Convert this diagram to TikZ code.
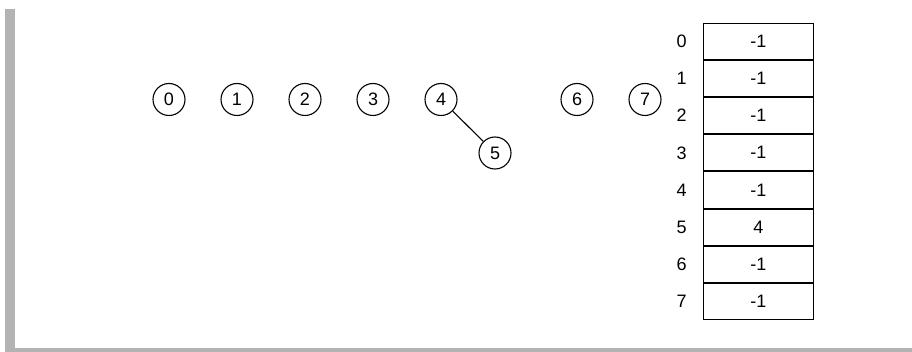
\documentclass[tikz,border=0pt]{standalone}
\usepackage{fontspec}
\setmainfont{Liberation Sans}
\definecolor{framegray}{HTML}{B3B3B3}
\begin{document}
\begin{tikzpicture}[x=1pt,y=-1pt,
  every node/.style={font=\fontsize{18}{21}\selectfont},
  vert/.style={circle,draw,line width=1.1pt,minimum size=32pt,inner sep=0pt},
  cell/.style={rectangle,draw,line width=1.1pt,minimum width=110pt,minimum height=36.2pt,inner sep=0pt},
  idx/.style={inner sep=0pt},
  edge/.style={line width=1.1pt}]
\useasboundingbox (0,0) rectangle (912,352);
% frame bars
\fill[framegray] (4.5,9) rectangle (15,352);
\fill[framegray] (4.5,347.5) rectangle (912,352);
% vertices
\foreach \i in {0,1,2,3,4,6,7} {
  \node[vert] (v\i) at ({169+68*\i},99.5) {\i};
}
\node[vert] (v5) at (495,153) {5};
\draw[edge] (v4) -- (v5);
% array
\foreach \i/\v in {0/-1,1/-1,2/-1,3/-1,4/-1,5/4,6/-1,7/-1} {
  \node[cell] (c\i) at (758.3,{41.3+37.17*\i}) {\v};
  \node[idx] (l\i) at (681.7,{41.3+37.17*\i}) {\i};
}
\end{tikzpicture}
\end{document}
